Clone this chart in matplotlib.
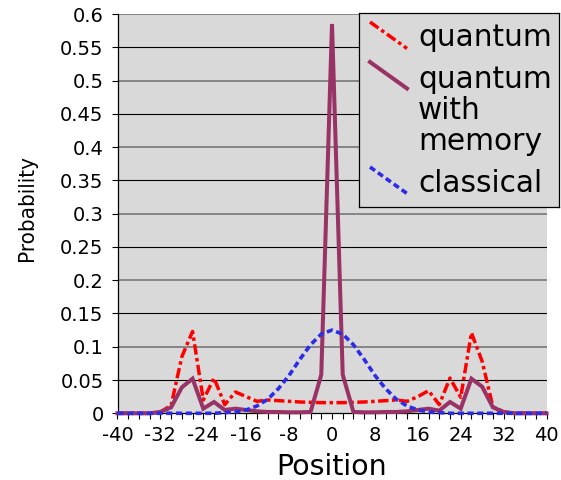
import numpy as np
import matplotlib
matplotlib.use("Agg")
import matplotlib.pyplot as plt
from matplotlib import font_manager as fm

# ---------------- data ----------------
positions = list(range(-40, 41, 2))

quantum = [0, 0, 0, 0, 0.002, 0.012, 0.085, 0.123, 0.02, 0.053,
           0.013, 0.032, 0.025, 0.018, 0.02, 0.019, 0.018, 0.017, 0.0165, 0.016,
           0.016,
           0.016, 0.0165, 0.017, 0.018, 0.019, 0.02, 0.018, 0.025, 0.034, 0.013,
           0.053, 0.024, 0.121, 0.078, 0.01, 0.002, 0, 0, 0, 0]

quantum_memory = [0, 0, 0, 0, 0.002, 0.009, 0.039, 0.052, 0.007, 0.017,
                  0.005, 0.007, 0.005, 0.003, 0.002, 0.002, 0.0015, 0.0015, 0.002, 0.058,
                  0.585,
                  0.058, 0.002, 0.0015, 0.0015, 0.002, 0.002, 0.003, 0.005, 0.007, 0.004,
                  0.017, 0.007, 0.052, 0.040, 0.009, 0.002, 0, 0, 0, 0]

classical = [0, 0, 0, 0, 0, 0, 0, 0, 0, 0,
             0.001, 0.002, 0.005, 0.011, 0.021, 0.037, 0.057, 0.081, 0.103, 0.119,
             0.125,
             0.119, 0.103, 0.081, 0.057, 0.037, 0.021, 0.011, 0.005, 0.002, 0.001,
             0, 0, 0, 0, 0, 0, 0, 0, 0, 0]

series_labels = ["quantum", "quantum\nwith\nmemory", "classical"]
x_ticks = [-40, -32, -24, -16, -8, 0, 8, 16, 24, 32, 40]
y_ticks = [0, 0.05, 0.1, 0.15, 0.2, 0.25, 0.3, 0.35, 0.4, 0.45, 0.5, 0.55, 0.6]
y_tick_labels = ["0", "0.05", "0.1", "0.15", "0.2", "0.25", "0.3", "0.35",
                 "0.4", "0.45", "0.5", "0.55", "0.6"]

# ---------------- style ----------------
W, H = 561, 480
BG = "#D9D9D9"
RED = "#FF0000"
PURPLE = "#993366"
BLUE = "#2B2BE8"
red_ls = (0, (3, 1, 1, 1))
blue_ls = (0, (1.7, 1))

plt.rcParams["font.family"] = ["DejaVu Sans"]

names = {f.name for f in fm.fontManager.ttflist}
if "Liberation Sans Narrow" in names:
    ylab_font = dict(family="Liberation Sans Narrow", size=17)
elif "DejaVu Sans Condensed" in names or any("Condensed" in f.fname and "DejaVuSans" in f.fname for f in fm.fontManager.ttflist):
    ylab_font = dict(family="DejaVu Sans", stretch="condensed", size=16)
else:
    ylab_font = dict(family="Liberation Sans", size=14)

fig = plt.figure(figsize=(W / 100, H / 100), dpi=100)
fig.patch.set_facecolor("white")

left, right, top, bottom = 117.5, 546.5, 14.0, 413.3
ax = fig.add_axes([left / W, (H - bottom) / H, (right - left) / W, (bottom - top) / H])
ax.set_facecolor(BG)
ax.set_xlim(-40, 40)
ax.set_ylim(0, 0.6)

# gridlines
for v in y_ticks[1:]:
    major = abs(round(v * 10) - v * 10) < 1e-6
    ax.axhline(v, color="#7F7F7F" if major else "black",
               lw=1.3 if major else 0.8, zorder=1)

ax.plot(positions, quantum, color=RED, lw=2.5, linestyle=red_ls,
        dash_capstyle="butt", zorder=3, clip_on=False)
ax.plot(positions, quantum_memory, color=PURPLE, lw=2.9, solid_joinstyle="miter",
        zorder=4, clip_on=False)
ax.plot(positions, classical, color=BLUE, lw=2.6, linestyle=blue_ls,
        dash_capstyle="butt", zorder=5, clip_on=False)

for s in ["top", "right"]:
    ax.spines[s].set_visible(False)
for s in ["left", "bottom"]:
    ax.spines[s].set_color("black")
    ax.spines[s].set_linewidth(0.9)
    ax.spines[s].set_zorder(2.5)

ax.set_xticks(x_ticks)
ax.set_xticklabels([str(t) for t in x_ticks])
ax.set_xticks(positions, minor=True)
ax.set_yticks(y_ticks)
ax.set_yticklabels(y_tick_labels)
ax.tick_params(axis="x", which="both", direction="out", length=4, width=0.8,
               labelsize=14, pad=5)
ax.tick_params(axis="y", which="both", direction="out", length=4, width=0.8,
               labelsize=14, pad=6)

ax.set_xlabel("Position", fontsize=20.5)
ax.xaxis.set_label_coords(0.5, -0.135)
ax.xaxis.label.set_verticalalignment("center")
ax.set_ylabel("Probability", **ylab_font)
ax.yaxis.set_label_coords(-0.212, 0.515)
ax.yaxis.label.set_verticalalignment("center")

# ---------------- legend (manual, Excel-like diagonal keys) ----------------
lx0, lx1, ly0, ly1 = 359, 559, 13, 207
lax = fig.add_axes([lx0 / W, (H - ly1) / H, (lx1 - lx0) / W, (ly1 - ly0) / H])
lax.set_facecolor(BG)
lax.set_xlim(lx0, lx1)
lax.set_ylim(ly1, ly0)
lax.set_xticks([])
lax.set_yticks([])
for s in lax.spines.values():
    s.set_color("black")
    s.set_linewidth(0.9)

styles = [dict(color=RED, lw=2.5, linestyle=red_ls, dash_capstyle="butt"),
          dict(color=PURPLE, lw=2.9),
          dict(color=BLUE, lw=2.6, linestyle=blue_ls, dash_capstyle="butt")]
key_tops = [22, 62, 167]
first_baselines = [46.5, 88, 192]
line_step = 31
for lab, st, kt, bl in zip(series_labels, styles, key_tops, first_baselines):
    lax.plot([370, 407], [kt, kt + 26.5], **st)
    for i, part in enumerate(lab.split("\n")):
        lax.text(418, bl + i * line_step, part, fontsize=21.3, va="baseline",
                 ha="left", color="black")

fig.savefig("out.png", dpi=100, facecolor="white")
